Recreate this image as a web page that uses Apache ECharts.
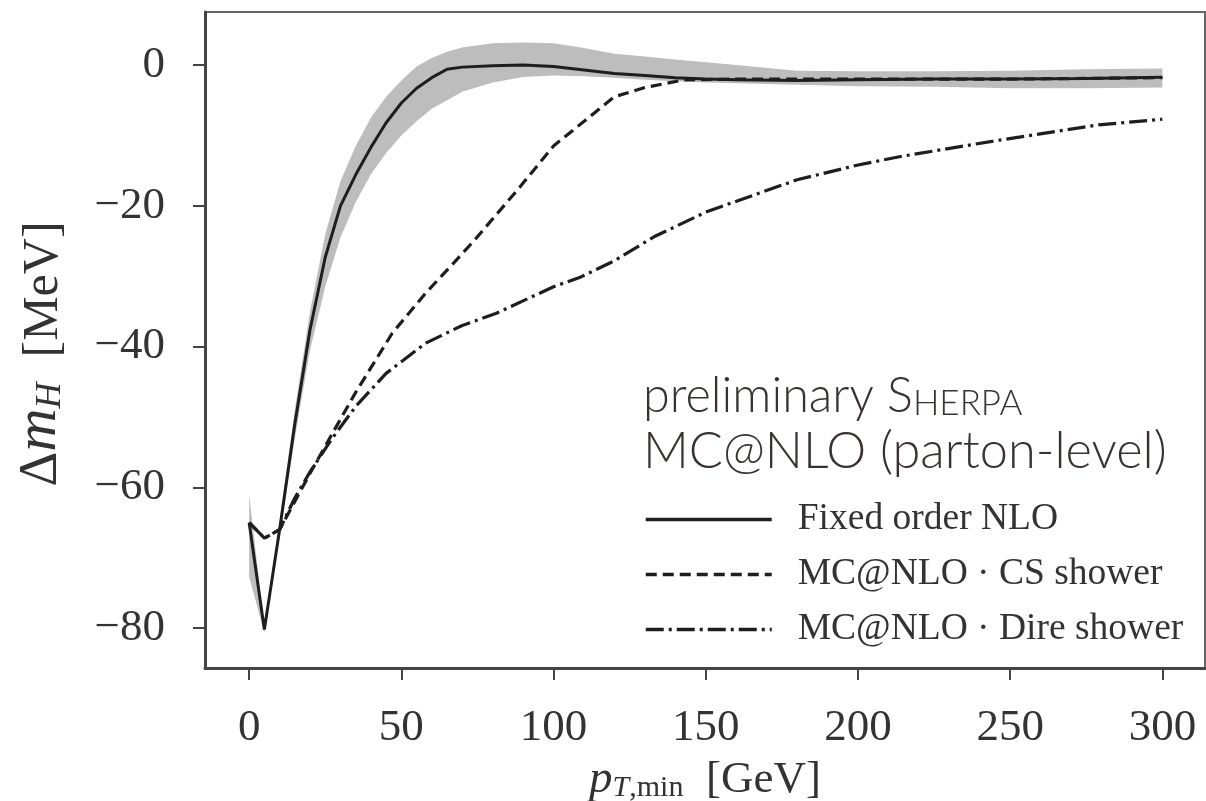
<!DOCTYPE html>
<html>
<head>
<meta charset="utf-8">
<script src="https://cdn.jsdelivr.net/npm/echarts@6/dist/echarts.min.js"></script>
<style>
html,body{margin:0;padding:0;background:#fff;overflow:hidden;}
#chart{width:1206px;height:801px;}
</style>
</head>
<body>
<div id="chart"></div>
<script>
// ---- data ----
const xTicks = [0, 50, 100, 150, 200, 250, 300];
const yTicks = [-80, -60, -40, -20, 0];

const foX = [0,5,10,15,20,25,30,35,40,45,50,55,60,65,70,80,90,100,110,120,130,140,150,160,180,200,225,250,275,300];
const foY = [-65,-80.2,-66,-51,-37.6,-27.3,-20,-15.6,-11.7,-8.2,-5.4,-3.3,-1.8,-0.6,-0.3,-0.1,0,-0.2,-0.7,-1.2,-1.5,-1.8,-2.0,-2.1,-2.2,-2.1,-2.0,-2.0,-1.9,-1.75];
const bandLow  = [-72.7,-80.6,-67,-53,-40.5,-31.5,-24.5,-19.5,-15.5,-12.5,-10,-8,-6.2,-5,-3.8,-2.5,-1.7,-1.5,-1.6,-1.8,-2.1,-2.3,-2.5,-2.6,-2.8,-3.0,-3.1,-3.3,-3.3,-3.2];
const bandHigh = [-61,-79.8,-65,-49,-35,-24,-16.5,-11.5,-7.5,-4.5,-2.2,-0.2,1.0,1.9,2.5,3.1,3.2,3.1,2.4,1.6,1.2,0.8,0.4,0.0,-0.8,-0.9,-0.9,-0.8,-0.6,-0.5];

const csX = [0,5,10,15,20,27,35,47,58,67,74,89,100,112,120,130,143,160,200,250,300];
const csY = [-65,-67.2,-66,-62,-58,-52.6,-46.5,-38.1,-32.4,-28.2,-24.9,-17.3,-11.5,-7.3,-4.5,-3.2,-2.1,-2.0,-2.0,-2.0,-1.8];

const direX = [0,5,10,15,20,27,35,45,58,70,81,100,109,120,133,150,161,180,200,214,246,279,300];
const direY = [-65,-67.2,-66,-61.5,-57.8,-53.2,-48.5,-43.8,-39.5,-37,-35.3,-31.5,-30.1,-27.8,-24.4,-20.9,-19.2,-16.3,-14.2,-13.0,-10.7,-8.5,-7.7];

const names = ['Fixed order NLO', 'MC@NLO \u00b7 CS shower', 'MC@NLO \u00b7 Dire shower'];

// ---- build ----
const zip = (xs, ys) => xs.map((x, i) => [x, ys[i]]);
const bandRows = foX.map((x, i) => [x, bandLow[i], bandHigh[i]]);
const SERIF = 'Liberation Serif';
const INK = '#1e1e1e';
const TXT = '#333';
const SANS_C = '#383331';

const chart = echarts.init(document.getElementById('chart'), null, {renderer: 'canvas'});
chart.setOption({
  animation: false,
  backgroundColor: '#fff',
  grid: {left: 205, right: 1, top: 12, bottom: 133, show: true, borderColor: '#666', borderWidth: 2,
         containLabel: false, outerBoundsMode: 'none'},
  xAxis: {
    type: 'value', min: -14.5, max: 314,
    axisLine: {show: true, onZero: false, lineStyle: {color: '#444', width: 3}},
    axisTick: {show: true, inside: false, length: 12, customValues: xTicks, lineStyle: {color: '#444', width: 2}},
    axisLabel: {customValues: xTicks, margin: 38, fontSize: 45, fontFamily: SERIF, color: TXT},
    splitLine: {show: false},
    name: '{p|p}{t|T}{c|,min}{r|  [GeV]}',
    nameLocation: 'middle', nameGap: 80,
    nameTextStyle: {
      fontSize: 44, fontFamily: SERIF, color: TXT,
      rich: {
        p: {fontSize: 47, fontFamily: SERIF, fontStyle: 'italic', color: TXT, lineHeight: 52, verticalAlign: 'bottom'},
        t: {fontSize: 30, fontFamily: SERIF, fontStyle: 'italic', color: TXT, lineHeight: 34, verticalAlign: 'bottom'},
        c: {fontSize: 30, fontFamily: SERIF, color: TXT, lineHeight: 34, verticalAlign: 'bottom'},
        r: {fontSize: 45, fontFamily: SERIF, color: TXT, lineHeight: 52, verticalAlign: 'bottom'}
      }
    }
  },
  yAxis: {
    type: 'value', min: -85.65, max: 7.53,
    axisLine: {show: true, onZero: false, lineStyle: {color: '#444', width: 3}},
    axisTick: {show: true, inside: false, length: 12, customValues: yTicks, lineStyle: {color: '#444', width: 2}},
    axisLabel: {customValues: yTicks, margin: 40, fontSize: 45, fontFamily: SERIF, color: TXT,
      formatter: v => (v < 0 ? '\u2212' + Math.abs(v) : String(v))},
    splitLine: {show: false},
    name: '{d|\u0394}{m|m}{h|H}{r|  [MeV]}{g|}',
    nameLocation: 'middle', nameRotate: 90, nameGap: 136,
    nameTextStyle: {
      fontSize: 50, fontFamily: SERIF, color: TXT,
      rich: {
        d: {fontSize: 54, fontFamily: SERIF, color: TXT, lineHeight: 60, verticalAlign: 'bottom'},
        m: {fontSize: 60, fontFamily: SERIF, fontStyle: 'italic', color: TXT, lineHeight: 60, verticalAlign: 'bottom'},
        h: {fontSize: 36, fontFamily: SERIF, fontStyle: 'italic', color: TXT, lineHeight: 40, verticalAlign: 'bottom'},
        r: {fontSize: 50, fontFamily: SERIF, color: TXT, lineHeight: 60, verticalAlign: 'bottom'},
        g: {width: 28, lineHeight: 60}
      }
    }
  },
  legend: {
    data: names, orient: 'vertical', left: 644, top: 499, padding: 0,
    itemWidth: 126, itemHeight: 20, itemGap: 14,
    itemStyle: {opacity: 0},
    lineStyle: {width: 3.5},
    textStyle: {fontSize: 37.5, fontFamily: SERIF, color: TXT, lineHeight: 41, padding: [0, 0, 0, 21]}
  },
  graphic: [
    {type: 'text', x: 643, y: 391, silent: true,
      style: {text: '{a|preliminary S}{b|HERPA}', verticalAlign: 'middle',
        rich: {
          a: {fontSize: 48.5, fontFamily: 'Lato', fontWeight: 300, fill: SANS_C, color: SANS_C, lineHeight: 60, verticalAlign: 'bottom'},
          b: {fontSize: 35, fontFamily: 'Lato', fontWeight: 300, fill: SANS_C, color: SANS_C, lineHeight: 50, verticalAlign: 'bottom'}
        }}},
    {type: 'text', x: 643, y: 452, silent: true,
      style: {text: 'MC@NLO (parton-level)', fontSize: 50.5, fontFamily: 'Lato', fontWeight: 300, fill: SANS_C, verticalAlign: 'middle'}}
  ],
  series: [
    {
      type: 'custom', name: 'band', silent: true, z: 1,
      data: bandRows, encode: {x: 0, y: [1, 2]},
      renderItem: function (params, api) {
        if (params.dataIndex !== 0) return null;
        const pts = [];
        for (let i = 0; i < bandRows.length; i++) pts.push(api.coord([bandRows[i][0], bandRows[i][2]]));
        for (let i = bandRows.length - 1; i >= 0; i--) pts.push(api.coord([bandRows[i][0], bandRows[i][1]]));
        return {type: 'polygon', shape: {points: pts}, style: {fill: '#bdbdbd', stroke: null}};
      }
    },
    {type: 'line', name: names[0], data: zip(foX, foY), symbol: 'none', z: 3,
      lineStyle: {color: INK, width: 3, type: 'solid'}, itemStyle: {color: INK}},
    {type: 'line', name: names[1], data: zip(csX, csY), symbol: 'none', z: 2,
      lineStyle: {color: INK, width: 3.2, type: [11, 6]}, itemStyle: {color: INK}},
    {type: 'line', name: names[2], data: zip(direX, direY), symbol: 'none', z: 2,
      lineStyle: {color: INK, width: 3.2, type: [18, 5, 3, 5]}, itemStyle: {color: INK}}
  ]
});
</script>
</body>
</html>
